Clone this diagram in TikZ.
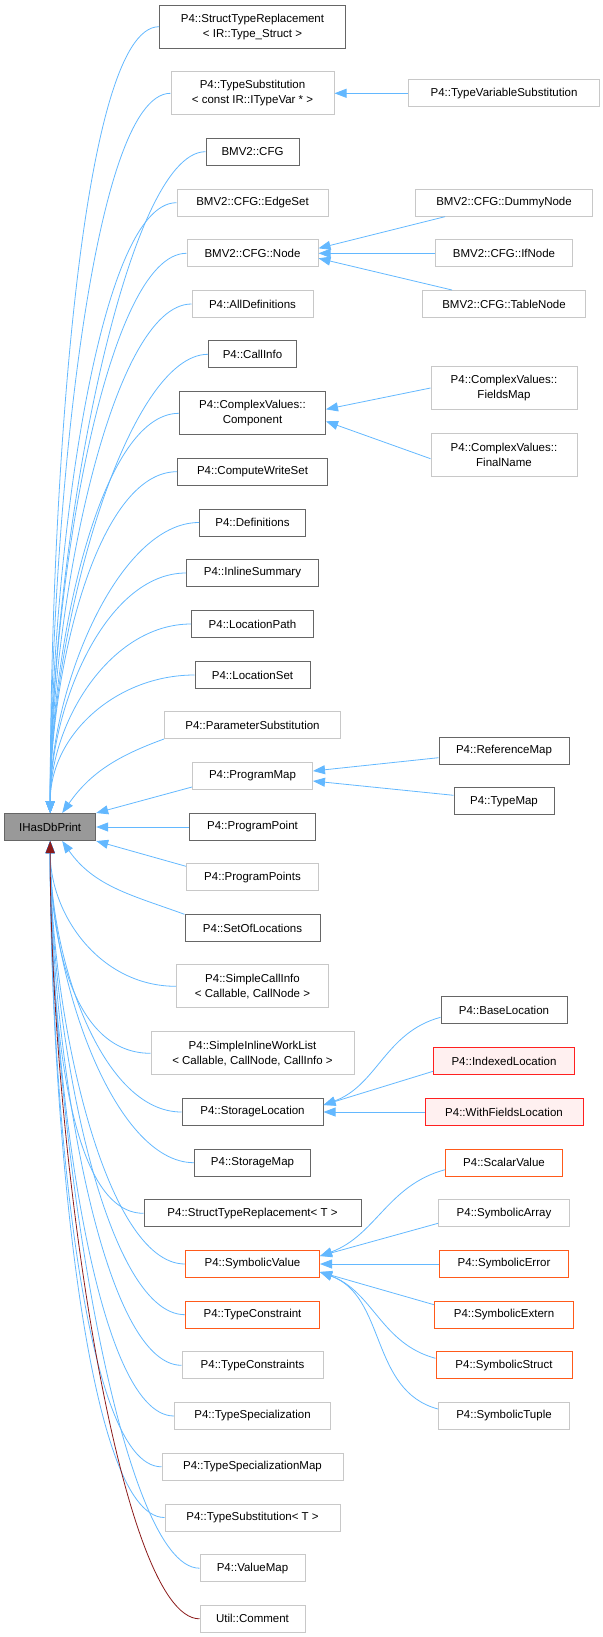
\documentclass[tikz,border=0pt]{standalone}
\usepackage{fontspec}
\setmainfont{Liberation Sans}
\usetikzlibrary{arrows.meta}
\definecolor{eb}{HTML}{63B8FF}
\definecolor{dk}{HTML}{666666}
\definecolor{lg}{HTML}{C8C8C8}
\definecolor{og}{HTML}{FF5A1A}
\definecolor{rd}{HTML}{FF2020}
\definecolor{pk}{HTML}{FFF0F0}
\definecolor{dr}{HTML}{8B1A1A}
\begin{document}
\begin{tikzpicture}[x=1pt,y=-1pt,
  box/.style={draw,rectangle,minimum height=27pt,inner sep=1pt,align=center,font=\fontsize{11.5}{15}\selectfont,line width=1pt},
  dkb/.style={box,draw=dk},
  lgb/.style={box,draw=lg},
  ogb/.style={box,draw=og},
  rdb/.style={box,draw=rd,fill=pk},
  two/.style={minimum height=43pt},
  e/.style={draw=eb,line width=0.8pt,{Triangle[length=12pt,width=9pt,fill=eb]}-},
  er/.style={draw=dr,line width=0.8pt,{Triangle[length=12pt,width=9pt,fill=dr]}-},
  fan/.style={in max distance=80pt,out max distance=400pt}]
\useasboundingbox (0,0) rectangle (602,1637);
\node[box,draw=black!60,fill=black!40,minimum width=91pt] (root) at (50.2,827) {IHasDbPrint};
% middle column
\def\mx{252.5}
\node[dkb,two,minimum width=186pt] (m1) at (\mx,26.7) {P4::StructTypeReplacement\\< IR::Type\_Struct >};
\node[lgb,two,minimum width=163pt] (m2) at (\mx,93.3) {P4::TypeSubstitution\\< const IR::ITypeVar * >};
\node[dkb,minimum width=93pt] (m3) at (\mx,151.7) {BMV2::CFG};
\node[lgb,minimum width=151pt] (m4) at (\mx,202.7) {BMV2::CFG::EdgeSet};
\node[lgb,minimum width=131pt] (m5) at (\mx,253.3) {BMV2::CFG::Node};
\node[lgb,minimum width=121pt] (m6) at (\mx,304) {P4::AllDefinitions};
\node[dkb,minimum width=88pt] (m7) at (\mx,354.3) {P4::CallInfo};
\node[dkb,two,minimum width=146pt] (m8) at (\mx,413.3) {P4::ComplexValues::\\Component};
\node[dkb,minimum width=150pt] (m9) at (\mx,471.7) {P4::ComputeWriteSet};
\node[dkb,minimum width=106pt] (m10) at (\mx,522.5) {P4::Definitions};
\node[dkb,minimum width=132pt] (m11) at (\mx,573) {P4::InlineSummary};
\node[dkb,minimum width=122pt] (m12) at (\mx,624) {P4::LocationPath};
\node[dkb,minimum width=115pt] (m13) at (\mx,675) {P4::LocationSet};
\node[lgb,minimum width=176pt] (m14) at (\mx,725) {P4::ParameterSubstitution};
\node[lgb,minimum width=120pt] (m15) at (\mx,776) {P4::ProgramMap};
\node[dkb,minimum width=126pt] (m16) at (\mx,827) {P4::ProgramPoint};
\node[lgb,minimum width=132pt] (m17) at (\mx,877.3) {P4::ProgramPoints};
\node[dkb,minimum width=135pt] (m18) at (\mx,928.3) {P4::SetOfLocations};
\node[lgb,two,minimum width=152pt] (m19) at (\mx,986.3) {P4::SimpleCallInfo\\< Callable, CallNode >};
\node[lgb,two,minimum width=203pt] (m20) at (\mx,1053.3) {P4::SimpleInlineWorkList\\< Callable, CallNode, CallInfo >};
\node[dkb,minimum width=141pt] (m21) at (\mx,1112) {P4::StorageLocation};
\node[dkb,minimum width=116pt] (m22) at (\mx,1162.7) {P4::StorageMap};
\node[dkb,minimum width=217pt] (m23) at (\mx,1213.3) {P4::StructTypeReplacement< T >};
\node[ogb,minimum width=134pt] (m24) at (\mx,1264) {P4::SymbolicValue};
\node[ogb,minimum width=134pt] (m25) at (\mx,1314.7) {P4::TypeConstraint};
\node[lgb,minimum width=141pt] (m26) at (\mx,1365.3) {P4::TypeConstraints};
\node[lgb,minimum width=156pt] (m27) at (\mx,1416) {P4::TypeSpecialization};
\node[lgb,minimum width=181pt] (m28) at (\mx,1466.8) {P4::TypeSpecializationMap};
\node[lgb,minimum width=175pt] (m29) at (\mx,1517.5) {P4::TypeSubstitution< T >};
\node[lgb,minimum width=105pt] (m30) at (\mx,1568.2) {P4::ValueMap};
\node[lgb,minimum width=105pt] (m31) at (\mx,1618.8) {Util::Comment};
% right column
\def\rx{504}
\node[lgb,minimum width=191pt] (r1) at (\rx,93.3) {P4::TypeVariableSubstitution};
\node[lgb,minimum width=177pt] (r2) at (\rx,202.7) {BMV2::CFG::DummyNode};
\node[lgb,minimum width=137pt] (r3) at (\rx,253.3) {BMV2::CFG::IfNode};
\node[lgb,minimum width=163pt] (r4) at (\rx,304) {BMV2::CFG::TableNode};
\node[lgb,two,minimum width=146pt] (r5) at (\rx,388) {P4::ComplexValues::\\FieldsMap};
\node[lgb,two,minimum width=146pt] (r6) at (\rx,454.7) {P4::ComplexValues::\\FinalName};
\node[dkb,minimum width=130pt] (r7) at (\rx,750.7) {P4::ReferenceMap};
\node[dkb,minimum width=100pt] (r8) at (\rx,801.3) {P4::TypeMap};
\node[dkb,minimum width=126pt] (r9) at (\rx,1010.3) {P4::BaseLocation};
\node[rdb,minimum width=141pt] (r10) at (\rx,1061.3) {P4::IndexedLocation};
\node[rdb,minimum width=158pt] (r11) at (\rx,1112) {P4::WithFieldsLocation};
\node[ogb,minimum width=117pt] (r12) at (\rx,1162.7) {P4::ScalarValue};
\node[lgb,minimum width=131pt] (r13) at (\rx,1213.3) {P4::SymbolicArray};
\node[ogb,minimum width=129pt] (r14) at (\rx,1264) {P4::SymbolicError};
\node[ogb,minimum width=139pt] (r15) at (\rx,1314.7) {P4::SymbolicExtern};
\node[ogb,minimum width=136pt] (r16) at (\rx,1365.3) {P4::SymbolicStruct};
\node[lgb,minimum width=131pt] (r17) at (\rx,1416) {P4::SymbolicTuple};
% edges to root
\foreach \n in {m1,m2,m3,m4,m5,m6,m7,m8,m9,m10,m11,m12,m13}
  \draw[e] (root.north) to[out=90,in=180,fan] (\n.west);
\draw[e] ([xshift=12pt]root.north) to[out=55,in=200] (m14.south west);
\draw[e] (root.north east) -- ([yshift=3pt]m15.south west);
\draw[e] (root.east) -- (m16.west);
\draw[e] (root.south east) -- ([yshift=-3pt]m17.north west);
\draw[e] ([xshift=12pt]root.south) to[out=-55,in=160] (m18.north west);
\foreach \n in {m19,m20,m21,m22,m23,m24,m25,m26,m27,m28,m29,m30}
  \draw[e] (root.south) to[out=-90,in=180,fan] (\n.west);
\draw[er] (root.south) to[out=-90,in=180,fan] (m31.west);
% right edges
\draw[e] (m2.east) -- (r1.west);
\draw[e] ([yshift=5pt]m5.east) -- ([xshift=30pt]r2.south west);
\draw[e] (m5.east) -- (r3.west);
\draw[e] ([yshift=-5pt]m5.east) -- ([xshift=30pt]r4.north west);
\draw[e] ([yshift=4pt]m8.east) -- (r5.west);
\draw[e] ([yshift=-8pt]m8.east) -- ([yshift=-4pt]r6.west);
\draw[e] ([yshift=5pt]m15.east) -- ([yshift=-7pt]r7.west);
\draw[e] ([yshift=-5pt]m15.east) -- ([yshift=6pt]r8.west);
\draw[e] ([yshift=7pt]m21.east) to[out=20,in=195] ([yshift=-7pt]r9.west);
\draw[e] ([yshift=7pt]m21.east) -- ([yshift=-10pt]r10.west);
\draw[e] (m21.east) -- (r11.west);
\draw[e] ([yshift=8pt]m24.east) to[out=20,in=195] ([yshift=-7pt]r12.west);
\draw[e] ([yshift=8pt]m24.east) -- ([yshift=-10pt]r13.west);
\draw[e] (m24.east) -- (r14.west);
\draw[e] ([yshift=-8pt]m24.east) -- ([yshift=10pt]r15.west);
\draw[e] ([yshift=-8pt]m24.east) to[out=-20,in=165] ([yshift=7pt]r16.west);
\draw[e] ([yshift=-8pt]m24.east) to[out=-20,in=165] ([yshift=7pt]r17.west);
\end{tikzpicture}
\end{document}
